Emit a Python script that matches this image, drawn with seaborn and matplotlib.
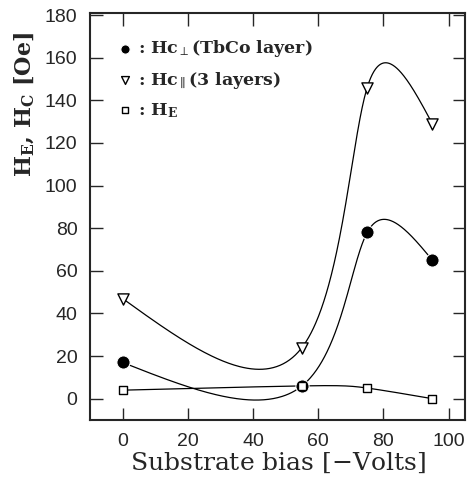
import numpy as np
import pandas as pd
import seaborn as sns
import matplotlib.pyplot as plt

bias = [0, 55, 75, 95]
hc_perp = [17, 6, 78, 65]
hc_par = [47, 24, 146, 129]
h_e = [4, 6, 5, 0]

labels = [r': Hc$_{\perp}$(TbCo layer)', r': Hc$_{\parallel}$(3 layers)',
          r': H$_{\mathbf{E}}$']


def natural_spline(t, y, ts):
    t = np.asarray(t, float)
    y = np.asarray(y, float)
    k = len(t)
    h = np.diff(t)
    A = np.zeros((k, k))
    b = np.zeros(k)
    A[0, 0] = A[-1, -1] = 1
    for i in range(1, k - 1):
        A[i, i - 1] = h[i - 1]
        A[i, i] = 2 * (h[i - 1] + h[i])
        A[i, i + 1] = h[i]
        b[i] = 6 * ((y[i + 1] - y[i]) / h[i] - (y[i] - y[i - 1]) / h[i - 1])
    M = np.linalg.solve(A, b)
    idx = np.clip(np.searchsorted(t, ts) - 1, 0, k - 2)
    t0, t1 = t[idx], t[idx + 1]
    hh = t1 - t0
    return (M[idx] * (t1 - ts) ** 3 + M[idx + 1] * (ts - t0) ** 3) / (6 * hh) \
        + (y[idx] / hh - M[idx] * hh / 6) * (t1 - ts) \
        + (y[idx + 1] / hh - M[idx + 1] * hh / 6) * (ts - t0)


def smooth(x, y, n=400):
    # parametric spline through the points, one parameter step per point
    t = np.arange(len(x), dtype=float)
    ts = np.linspace(0, t[-1], n)
    return natural_spline(t, x, ts), natural_spline(t, y, ts)


sns.set_style("ticks")
plt.rcParams['font.family'] = ['Liberation Sans', 'DejaVu Sans']
plt.rcParams['mathtext.fontset'] = 'dejavuserif'

fig = plt.figure(figsize=(4.68, 4.82), dpi=100)
ax = fig.add_axes([90 / 468, 62 / 482, 375 / 468, 407 / 482])

series = [
    (hc_perp, 'o', dict(color='black', s=90), labels[0]),
    (hc_par, 'v', dict(facecolor='white', edgecolor='black', s=65, linewidth=1), labels[1]),
    (h_e, 's', dict(facecolor='white', edgecolor='black', s=40, linewidth=1), labels[2]),
]

for vals, mk, kw, lab in series:
    xs, ys = smooth(bias, vals)
    sns.lineplot(x=xs, y=ys, ax=ax, color='black', linewidth=0.9, sort=False,
                 estimator=None)
    df = pd.DataFrame({'x': bias, 'y': vals})
    sns.scatterplot(data=df, x='x', y='y', ax=ax, marker=mk, label=lab, zorder=3, **kw)

ax.set_xlim(-10, 105)
ax.set_ylim(-10, 181)
ax.set_xticks(np.arange(0, 101, 20))
ax.set_yticks(np.arange(0, 181, 20))
ax.tick_params(direction='in', length=9, width=1, top=True, right=True,
               labelsize=14, pad=9)
for sp in ax.spines.values():
    sp.set_linewidth(1.5)

ax.set_xlabel('Substrate bias [$-$Volts]', fontsize=18, family='DejaVu Serif',
              labelpad=1)
ax.set_ylabel(r'H$_{\mathbf{E}}$, H$_{\mathbf{C}}$ [Oe]', fontsize=16,
              family='DejaVu Serif', fontweight='bold')
ax.yaxis.set_label_coords(-0.14, 0.775)

leg = ax.legend(loc='upper left', bbox_to_anchor=(0.055, 0.955), frameon=False,
                handletextpad=0.35, markerscale=0.7,
                prop={'family': 'DejaVu Serif', 'weight': 'bold', 'size': 12.5},
                borderaxespad=0.0, labelspacing=0.6, handlelength=0.8)

fig.savefig('out.png', dpi=100)
